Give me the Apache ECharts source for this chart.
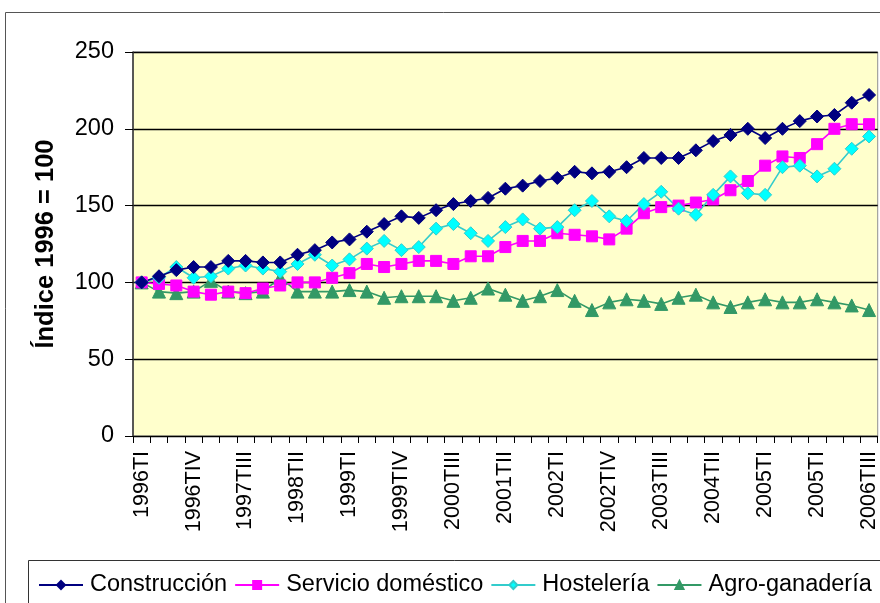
<!DOCTYPE html>
<html>
<head>
<meta charset="utf-8">
<script src="https://cdn.jsdelivr.net/npm/echarts@6/dist/echarts.min.js"></script>
<style>
html,body{margin:0;padding:0;background:#fff;}
#chart{width:880px;height:603px;}
</style>
</head>
<body>
<div id="chart"></div>
<script>
var categories = [
  '1996TI','1996TII','1996TIII','1996TIV',
  '1997TI','1997TII','1997TIII','1997TIV',
  '1998TI','1998TII','1998TIII','1998TIV',
  '1999TI','1999TII','1999TIII','1999TIV',
  '2000TI','2000TII','2000TIII','2000TIV',
  '2001TI','2001TII','2001TIII','2001TIV',
  '2002TI','2002TII','2002TIII','2002TIV',
  '2003TI','2003TII','2003TIII','2003TIV',
  '2004TI','2004TII','2004TIII','2004TIV',
  '2005TI','2005TII','2005TIII','2005TIV',
  '2006TI','2006TII','2006TIII'
];
// labels shown on the axis (every third quarter), as printed in the original
var tickLabels = ['1996TI','1996TIV','1997TIII','1998TII','1999TI','1999TIV','2000TIII',
  '2001TII','2002TI','2002TIV','2003TIII','2004TII','2005TI','2005TI','2006TIII'];

var construccion = [100,104,108,110,110,114,114,113,113,118,121,126,128,133,138,143,142,147,151,153,155,161,163,166,168,172,171,172,175,181,181,181,186,192,196,200,194,200,205,208,209,217,222];
var servicioDomestico = [100,99,98,94,92,94,93,96,98,100,100,103,106,112,110,112,114,114,112,117,117,123,127,127,132,131,130,128,135,145,149,150,152,154,160,166,176,182,181,190,200,203,203];
var hosteleria = [100,103,110,103,104,109,111,109,107,112,118,111,115,122,127,121,123,135,138,132,127,136,141,135,136,147,153,143,140,151,159,148,144,157,169,158,157,175,176,169,174,187,195];
var agroganaderia = [100,94,93,94,101,94,93,94,103,94,94,94,95,94,90,91,91,91,88,90,96,92,88,91,95,88,82,87,89,88,86,90,92,87,84,87,89,87,87,89,87,85,82];

var seriesNames = ['Construcción','Servicio doméstico','Hostelería','Agro-ganadería'];
var yTitle = 'Índice 1996 = 100';

var FONT = '"Liberation Sans", Arial, sans-serif';
var chart = echarts.init(document.getElementById('chart'), null, {renderer:'canvas'});

function mkSeries(name, data, lineColor, fill, border, symbol, size) {
  return {
    name: name, type: 'line', data: data,
    symbol: symbol, symbolSize: size, showSymbol: true,
    lineStyle: {color: lineColor, width: 1.6},
    itemStyle: {color: fill, borderColor: border, borderWidth: 1},
    emphasis: {disabled: true},
    animation: false
  };
}

chart.setOption({
  backgroundColor: '#ffffff',
  animation: false,
  textStyle: {fontFamily: FONT},
  graphic: [
    {type:'rect', shape:{x:5.5, y:12.5, width:1000, height:1000}, style:{fill:'none', stroke:'#555', lineWidth:1}, z:-10, silent:true},
    {type:'rect', shape:{x:28.5, y:560.5, width:1000, height:100}, style:{fill:'#fff', stroke:'#333', lineWidth:1}, z:-5, silent:true}
  ],
  grid: {
    left: 133, right: -2, top: 52, bottom: 167,
    show: true, backgroundColor: '#FFFFCC', borderColor: '#909090', borderWidth: 1
  },
  legend: {
    data: seriesNames,
    left: 33, top: 568,
    itemWidth: 44, itemHeight: 10, itemGap: 7,
    textStyle: {fontSize: 23.5, color: '#000', fontFamily: FONT, padding:[0,0,0,2]},
    selectedMode: false
  },
  xAxis: {
    type: 'category',
    data: categories,
    boundaryGap: true,
    axisLine: {lineStyle: {color: '#000', width: 1}},
    axisTick: {show: true, interval: 0, length: 7, lineStyle: {color: '#000'}},
    axisLabel: {
      interval: 0, rotate: 90, fontSize: 21.5, color: '#000', margin: 15, fontFamily: FONT,
      formatter: function (v, i) { return i % 3 === 0 ? tickLabels[i / 3] : ''; }
    },
    splitLine: {show: false}
  },
  yAxis: {
    type: 'value', min: 0, max: 250, interval: 50,
    name: yTitle, nameLocation: 'middle', nameGap: 74,
    nameTextStyle: {fontSize: 25.5, fontWeight: 'bold', color: '#000', fontFamily: FONT},
    axisLine: {show: true, lineStyle: {color: '#333', width: 1.5}},
    axisTick: {show: true, length: 8, lineStyle: {color: '#000'}},
    axisLabel: {fontSize: 23.5, color: '#000', margin: 19, fontFamily: FONT},
    splitLine: {show: true, lineStyle: {color: '#000', width: 1.3}}
  },
  series: [
    mkSeries(seriesNames[3], agroganaderia, '#339966', '#339966', '#339966', 'triangle', 13),
    mkSeries(seriesNames[1], servicioDomestico, '#FF00FF', '#FF00FF', '#FF00FF', 'rect', 11),
    mkSeries(seriesNames[2], hosteleria, '#33CCCC', '#00FFFF', '#33CCCC', 'diamond', 13),
    mkSeries(seriesNames[0], construccion, '#000080', '#000080', '#000080', 'diamond', 13)
  ]
});
</script>
</body>
</html>
